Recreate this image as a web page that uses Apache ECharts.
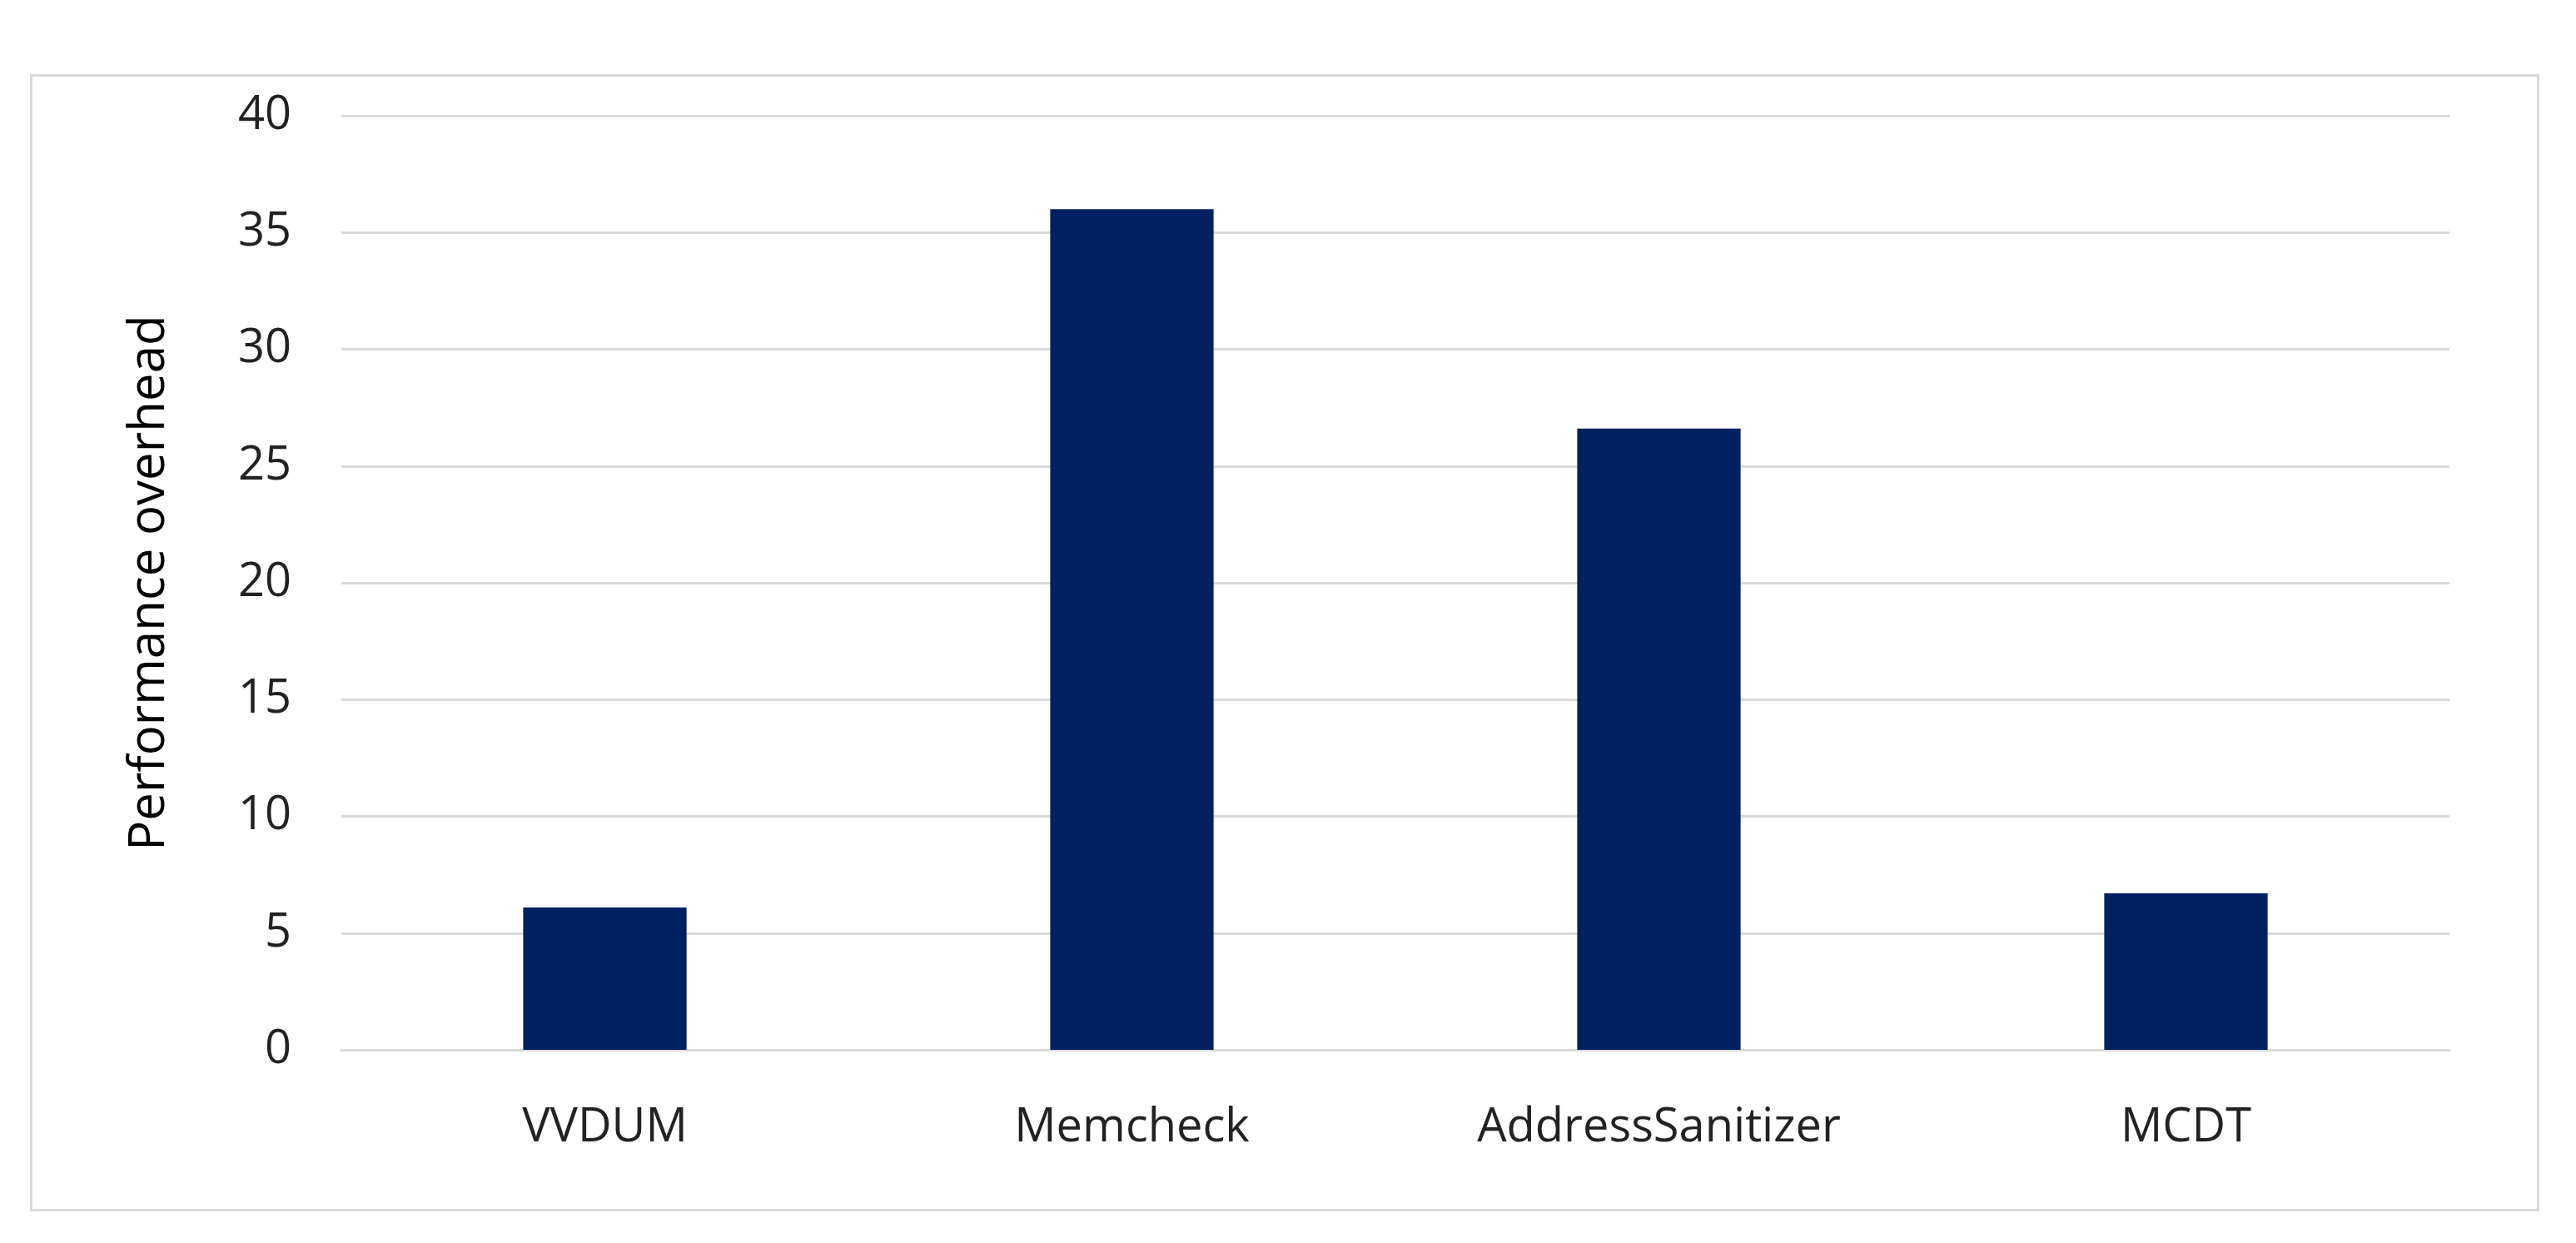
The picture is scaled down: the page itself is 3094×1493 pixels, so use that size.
<!DOCTYPE html>
<html>
<head>
<meta charset="utf-8">
<script src="https://cdn.jsdelivr.net/npm/echarts@6/dist/echarts.min.js"></script>
<style>
  html, body { margin:0; padding:0; background:#fff; }
  #frame { position:absolute; left:36px; top:89px; width:3014px; height:1366px; border:3px solid #d9d9d9; box-sizing:border-box; }
  #chart { position:absolute; left:0; top:0; width:3094px; height:1493px; }
</style>
</head>
<body>
<div id="frame"></div>
<div id="chart"></div>
<script>
const categories = ['VVDUM', 'Memcheck', 'AddressSanitizer', 'MCDT'];
const overhead = [6.1, 36.0, 26.6, 6.7];
const yTicks = { min: 0, max: 40, interval: 5 };

const chart = echarts.init(document.getElementById('chart'));
chart.setOption({
  animation: false,
  grid: { left: 410, right: 152, top: 139, bottom: 232 },
  xAxis: {
    type: 'category',
    data: categories,
    axisTick: { show: false },
    axisLine: { lineStyle: { color: '#d9d9d9', width: 3 } },
    axisLabel: { color: '#222', fontSize: 56, fontFamily: 'Open Sans', margin: 66 }
  },
  yAxis: {
    type: 'value',
    min: yTicks.min, max: yTicks.max, interval: yTicks.interval,
    name: 'Performance overhead',
    nameLocation: 'middle',
    nameGap: 200,
    nameTextStyle: { color: '#000', fontSize: 60, fontFamily: 'Open Sans' },
    axisLabel: { color: '#222', fontSize: 56, fontFamily: 'Open Sans', margin: 60 },
    splitLine: { lineStyle: { color: '#d9d9d9', width: 3 } }
  },
  series: [{
    type: 'bar',
    data: overhead,
    barWidth: '31%',
    itemStyle: { color: '#002060' }
  }]
});
</script>
</body>
</html>
